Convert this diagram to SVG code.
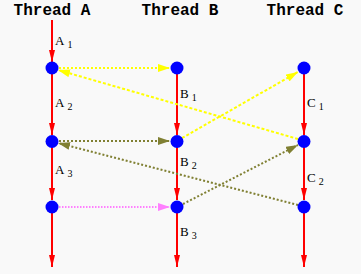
<svg xmlns="http://www.w3.org/2000/svg" width="361" height="274" viewBox="0 0 361 274">
<defs>
<marker id="ar" viewBox="0 0 12 6" refX="12" refY="3" markerWidth="12" markerHeight="6" markerUnits="userSpaceOnUse" orient="auto"><path d="M0,0 L12,3 L0,6 z" fill="#ff0000"/></marker>
<marker id="ay" viewBox="0 0 12 8" refX="12" refY="4" markerWidth="12" markerHeight="8" markerUnits="userSpaceOnUse" orient="auto"><path d="M0,0 L12,4 L0,8 z" fill="#ffff00"/></marker>
<marker id="ao" viewBox="0 0 12 8" refX="12" refY="4" markerWidth="12" markerHeight="8" markerUnits="userSpaceOnUse" orient="auto"><path d="M0,0 L12,4 L0,8 z" fill="#808033"/></marker>
<marker id="ap" viewBox="0 0 12 8" refX="12" refY="4" markerWidth="12" markerHeight="8" markerUnits="userSpaceOnUse" orient="auto"><path d="M0,0 L12,4 L0,8 z" fill="#ff80ff"/></marker>
</defs>
<style>
.title{font-family:"Liberation Mono","Courier New",monospace;font-weight:bold;font-size:16px;fill:#000;text-anchor:middle}
.lab{font-family:"Liberation Serif","Times New Roman",serif;font-size:13px;fill:#000}
.sub{font-size:10px}
.red{stroke:#ff0000;stroke-width:2;fill:none}
.node{fill:#0000ff}
.y{stroke:#ffff00;stroke-width:2;fill:none}
.o{stroke:#808033;stroke-width:2;fill:none}
.p{stroke:#ff80ff;stroke-width:2;fill:none}
</style>
<rect width="361" height="274" fill="#f9f9f9"/>
<g id="titles">
<text class="title" x="52" y="15">Thread A</text>
<text class="title" x="180" y="15">Thread B</text>
<text class="title" x="305" y="15">Thread C</text>
</g>
<g id="connectors">
<line class="red" x1="52" y1="20" x2="52" y2="62" marker-end="url(#ar)"/>
<line class="red" x1="52" y1="68" x2="52" y2="135" marker-end="url(#ar)"/>
<line class="red" x1="52" y1="141" x2="52" y2="200" marker-end="url(#ar)"/>
<line class="red" x1="52" y1="207" x2="52" y2="267" marker-end="url(#ar)"/>
<line class="red" x1="177" y1="68" x2="177" y2="135" marker-end="url(#ar)"/>
<line class="red" x1="177" y1="141" x2="177" y2="200" marker-end="url(#ar)"/>
<line class="red" x1="177" y1="207" x2="177" y2="267" marker-end="url(#ar)"/>
<line class="red" x1="304" y1="68" x2="304" y2="135" marker-end="url(#ar)"/>
<line class="red" x1="304" y1="141" x2="304" y2="200" marker-end="url(#ar)"/>
<line class="red" x1="304" y1="207" x2="304" y2="267" marker-end="url(#ar)"/>
<line class="y" x1="59" y1="68" x2="170" y2="68" stroke-dasharray="2,2" marker-end="url(#ay)"/>
<line class="y" x1="298" y1="139" x2="58" y2="70" stroke-dasharray="3,2" marker-end="url(#ay)"/>
<line class="y" x1="182" y1="138" x2="298" y2="72" stroke-dasharray="3,2" marker-end="url(#ay)"/>
<line class="o" x1="59" y1="141" x2="170" y2="141" stroke-dasharray="2,2" marker-end="url(#ao)"/>
<line class="o" x1="298" y1="205" x2="58" y2="143" stroke-dasharray="2,2" marker-end="url(#ao)"/>
<line class="o" x1="183" y1="204" x2="298" y2="145" stroke-dasharray="2,2" marker-end="url(#ao)"/>
<line class="p" x1="59" y1="207" x2="170" y2="207" stroke-dasharray="1.5,1.5" marker-end="url(#ap)"/>
</g>
<g id="labels">
<text class="lab" x="55" y="45">A<tspan class="sub" dx="3" dy="3">1</tspan></text>
<text class="lab" x="55" y="107">A<tspan class="sub" dx="3" dy="3">2</tspan></text>
<text class="lab" x="55" y="174">A<tspan class="sub" dx="3" dy="3">3</tspan></text>
<text class="lab" x="180" y="98">B<tspan class="sub" dx="3" dy="3">1</tspan></text>
<text class="lab" x="180" y="166">B<tspan class="sub" dx="3" dy="3">2</tspan></text>
<text class="lab" x="180" y="236">B<tspan class="sub" dx="3" dy="3">3</tspan></text>
<text class="lab" x="307" y="107">C<tspan class="sub" dx="3" dy="3">1</tspan></text>
<text class="lab" x="307" y="182">C<tspan class="sub" dx="3" dy="3">2</tspan></text>
</g>
<g id="nodeA1"><circle class="node" cx="52" cy="68" r="6.5"/></g>
<g id="nodeA2"><circle class="node" cx="52" cy="141.5" r="6.5"/></g>
<g id="nodeA3"><circle class="node" cx="52" cy="207" r="6.5"/></g>
<g id="nodeB1"><circle class="node" cx="177" cy="68" r="6.5"/></g>
<g id="nodeB2"><circle class="node" cx="177" cy="141.5" r="6.5"/></g>
<g id="nodeB3"><circle class="node" cx="177" cy="207" r="6.5"/></g>
<g id="nodeC1"><circle class="node" cx="304" cy="68" r="6.5"/></g>
<g id="nodeC2"><circle class="node" cx="304" cy="141.5" r="6.5"/></g>
<g id="nodeC3"><circle class="node" cx="304" cy="207" r="6.5"/></g>
</svg>
